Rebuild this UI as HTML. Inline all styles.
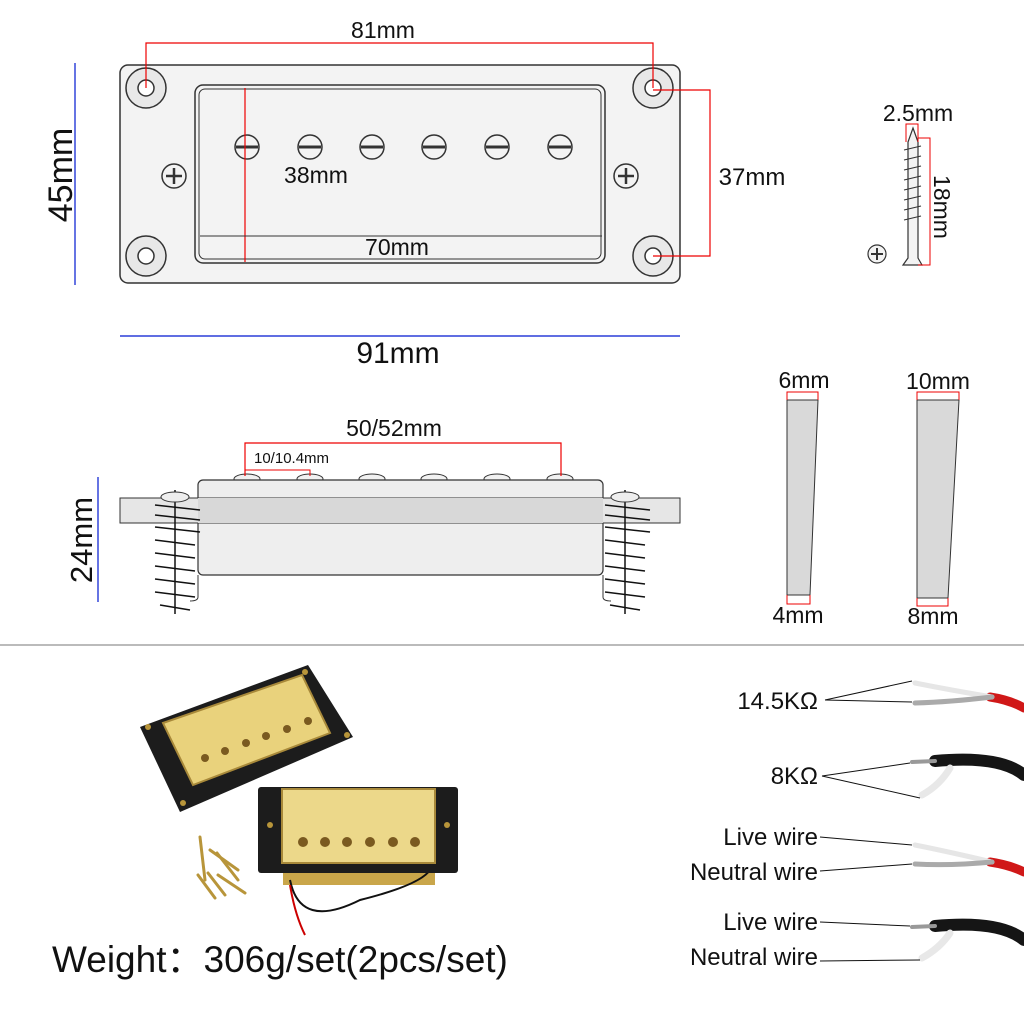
<!DOCTYPE html>
<html><head><meta charset="utf-8"><style>
html,body{margin:0;padding:0;background:#fff}
svg{display:block}
text{font-family:"Liberation Sans",sans-serif;fill:#111}
</style></head><body>
<svg width="1024" height="1024" viewBox="0 0 1024 1024" xmlns="http://www.w3.org/2000/svg">
<rect width="1024" height="1024" fill="#fff"/>
<!-- TOP VIEW -->
<rect x="120" y="65" width="560" height="218" rx="8" fill="#f3f3f3" stroke="#333" stroke-width="1.5"/>
<rect x="195" y="85" width="410" height="178" rx="8" fill="#f3f3f3" stroke="#333" stroke-width="1.5"/>
<rect x="199" y="89" width="402" height="170" rx="6" fill="none" stroke="#333" stroke-width="1"/>
<g fill="#e8e8e8" stroke="#333" stroke-width="1.5">
<circle cx="146" cy="88" r="20"/><circle cx="653" cy="88" r="20"/>
<circle cx="146" cy="256" r="20"/><circle cx="653" cy="256" r="20"/>
</g>
<g fill="#fff" stroke="#333" stroke-width="1.5">
<circle cx="146" cy="88" r="8"/><circle cx="653" cy="88" r="8"/>
<circle cx="146" cy="256" r="8"/><circle cx="653" cy="256" r="8"/>
</g>
<g fill="#f3f3f3" stroke="#333" stroke-width="1.5">
<circle cx="247" cy="147" r="12"/><circle cx="310" cy="147" r="12"/><circle cx="372" cy="147" r="12"/>
<circle cx="434" cy="147" r="12"/><circle cx="497" cy="147" r="12"/><circle cx="560" cy="147" r="12"/>
<circle cx="174" cy="176" r="12"/><circle cx="626" cy="176" r="12"/>
</g>
<g stroke="#333" stroke-width="3">
<line x1="236" y1="147" x2="258" y2="147"/><line x1="299" y1="147" x2="321" y2="147"/><line x1="361" y1="147" x2="383" y2="147"/>
<line x1="423" y1="147" x2="445" y2="147"/><line x1="486" y1="147" x2="508" y2="147"/><line x1="549" y1="147" x2="571" y2="147"/>
</g>
<g stroke="#333" stroke-width="2.5">
<line x1="166" y1="176" x2="182" y2="176"/><line x1="174" y1="168" x2="174" y2="184"/>
<line x1="618" y1="176" x2="634" y2="176"/><line x1="626" y1="168" x2="626" y2="184"/>
</g>
<g fill="none" stroke="#e00" stroke-width="1.2">
<polyline points="146,88 146,43 653,43 653,88"/>
<polyline points="653,90 710,90 710,256 653,256"/>
<line x1="245" y1="88" x2="245" y2="262"/>
</g>
<line x1="200" y1="236" x2="602" y2="236" stroke="#333" stroke-width="1"/>
<line x1="75" y1="63" x2="75" y2="285" stroke="#0018d0" stroke-width="1.2"/>
<line x1="120" y1="336" x2="680" y2="336" stroke="#0018d0" stroke-width="1.2"/>
<text x="383" y="38" font-size="23" text-anchor="middle">81mm</text>
<text x="752" y="185" font-size="24" text-anchor="middle">37mm</text>
<text x="316" y="183" font-size="23" text-anchor="middle">38mm</text>
<text x="397" y="255" font-size="23" text-anchor="middle">70mm</text>
<text x="398" y="363" font-size="30" text-anchor="middle">91mm</text>
<text transform="translate(72,175) rotate(-90)" font-size="34" text-anchor="middle">45mm</text>
<!-- screw -->
<g stroke="#333" stroke-width="1.2" fill="#f3f3f3">
<polygon points="913,128 918,142 918,258 922,265 903,265 908,258 908,142"/>
</g>
<g stroke="#333" stroke-width="1">
<line x1="904" y1="150" x2="921" y2="146"/><line x1="904" y1="160" x2="921" y2="156"/><line x1="904" y1="170" x2="921" y2="166"/>
<line x1="904" y1="180" x2="921" y2="176"/><line x1="904" y1="190" x2="921" y2="186"/><line x1="904" y1="200" x2="921" y2="196"/>
<line x1="904" y1="210" x2="921" y2="206"/><line x1="904" y1="220" x2="921" y2="216"/>
</g>
<polyline points="906,142 906,124 918,124 918,142" fill="none" stroke="#e00" stroke-width="1"/>
<polyline points="918,138 930,138 930,265 918,265" fill="none" stroke="#e00" stroke-width="1"/>
<circle cx="877" cy="254" r="9" fill="#f3f3f3" stroke="#333" stroke-width="1.2"/>
<line x1="871" y1="254" x2="883" y2="254" stroke="#333" stroke-width="2"/><line x1="877" y1="248" x2="877" y2="260" stroke="#333" stroke-width="2"/>
<text x="918" y="121" font-size="23" text-anchor="middle">2.5mm</text>
<text transform="translate(934,207) rotate(90)" font-size="23" text-anchor="middle">18mm</text>
<!-- SIDE VIEW -->
<g fill="#f1f1f1" stroke="#333" stroke-width="1">
<ellipse cx="247" cy="479" rx="13" ry="5"/><ellipse cx="310" cy="479" rx="13" ry="5"/><ellipse cx="372" cy="479" rx="13" ry="5"/>
<ellipse cx="434" cy="479" rx="13" ry="5"/><ellipse cx="497" cy="479" rx="13" ry="5"/><ellipse cx="560" cy="479" rx="13" ry="5"/>
</g>
<rect x="198" y="480" width="405" height="95" rx="5" fill="#eeeeee" stroke="#333" stroke-width="1.2"/>
<rect x="120" y="498" width="560" height="25" fill="#e6e6e6" stroke="#333" stroke-width="1"/>
<rect x="198" y="498" width="405" height="25" fill="#d8d8d8" stroke="none"/>
<path d="M198,575 L198,597 Q198,601 190,601" fill="none" stroke="#333" stroke-width="1"/>
<path d="M603,575 L603,597 Q603,601 611,601" fill="none" stroke="#333" stroke-width="1"/>
<g stroke="#111" stroke-width="1.5">
<line x1="175" y1="490" x2="175" y2="614"/><line x1="625" y1="490" x2="625" y2="614"/>
<line x1="155" y1="505" x2="200" y2="510"/><line x1="155" y1="515" x2="200" y2="520"/><line x1="155" y1="527" x2="200" y2="532"/>
<line x1="155" y1="540" x2="195" y2="545"/><line x1="155" y1="553" x2="195" y2="558"/><line x1="155" y1="566" x2="195" y2="571"/>
<line x1="155" y1="579" x2="195" y2="584"/><line x1="155" y1="592" x2="195" y2="597"/><line x1="160" y1="605" x2="190" y2="610"/>
<line x1="605" y1="505" x2="650" y2="510"/><line x1="605" y1="515" x2="650" y2="520"/><line x1="605" y1="527" x2="650" y2="532"/>
<line x1="605" y1="540" x2="645" y2="545"/><line x1="605" y1="553" x2="645" y2="558"/><line x1="605" y1="566" x2="645" y2="571"/>
<line x1="605" y1="579" x2="645" y2="584"/><line x1="605" y1="592" x2="645" y2="597"/><line x1="610" y1="605" x2="640" y2="610"/>
</g>
<ellipse cx="175" cy="497" rx="14" ry="5" fill="#eee" stroke="#333"/><ellipse cx="625" cy="497" rx="14" ry="5" fill="#eee" stroke="#333"/>
<polyline points="245,476 245,443 561,443 561,476" fill="none" stroke="#e00" stroke-width="1.2"/>
<polyline points="245,470 310,470 310,476" fill="none" stroke="#e00" stroke-width="1"/>
<text x="394" y="436" font-size="23" text-anchor="middle">50/52mm</text>
<text x="254" y="463" font-size="15">10/10.4mm</text>
<line x1="98" y1="477" x2="98" y2="602" stroke="#0018d0" stroke-width="1.2"/>
<text transform="translate(92,540) rotate(-90)" font-size="31" text-anchor="middle">24mm</text>
<!-- tapers -->
<polygon points="787,400 818,400 810,595 787,595" fill="#d9d9d9" stroke="#333" stroke-width="1"/>
<polygon points="917,400 959,400 948,598 917,598" fill="#d9d9d9" stroke="#333" stroke-width="1"/>
<g fill="none" stroke="#e00" stroke-width="1">
<polyline points="787,400 787,392 818,392 818,400"/><polyline points="917,400 917,392 959,392 959,400"/>
<polyline points="787,595 787,604 810,604 810,595"/><polyline points="917,598 917,606 948,606 948,598"/>
</g>
<text x="804" y="388" font-size="23" text-anchor="middle">6mm</text>
<text x="938" y="389" font-size="23" text-anchor="middle">10mm</text>
<text x="798" y="623" font-size="23" text-anchor="middle">4mm</text>
<text x="933" y="624" font-size="23" text-anchor="middle">8mm</text>
<line x1="0" y1="645" x2="1024" y2="645" stroke="#777" stroke-width="1"/>
<!-- PHOTO pickups -->
<polygon points="140,727 308,665 353,737 180,812" fill="#1c1c1c"/>
<polygon points="163,723 302,675 330,733 193,785" fill="#e9d27c" stroke="#a8893a" stroke-width="2"/>
<g fill="#7a5a20"><circle cx="205" cy="758" r="4"/><circle cx="225" cy="751" r="4"/><circle cx="246" cy="743" r="4"/><circle cx="266" cy="736" r="4"/><circle cx="287" cy="729" r="4"/><circle cx="308" cy="721" r="4"/></g>
<g fill="#b8953a"><circle cx="148" cy="727" r="3"/><circle cx="305" cy="672" r="3"/><circle cx="347" cy="735" r="3"/><circle cx="183" cy="803" r="3"/></g>
<rect x="283" y="873" width="152" height="12" fill="#c9a64a"/>
<path d="M290,880 Q300,930 360,900 Q420,885 430,870" fill="none" stroke="#111" stroke-width="2"/>
<path d="M290,885 Q295,915 305,935" fill="none" stroke="#c00" stroke-width="2"/>
<rect x="258" y="787" width="200" height="86" rx="3" fill="#1c1c1c"/>
<rect x="282" y="789" width="153" height="74" fill="#ecd88a" stroke="#a8893a" stroke-width="2"/>
<g fill="#7a5a20"><circle cx="303" cy="842" r="5"/><circle cx="325" cy="842" r="5"/><circle cx="347" cy="842" r="5"/><circle cx="370" cy="842" r="5"/><circle cx="393" cy="842" r="5"/><circle cx="415" cy="842" r="5"/></g>
<g fill="#b8953a"><circle cx="270" cy="825" r="3"/><circle cx="447" cy="825" r="3"/></g>
<g stroke="#b8953a" stroke-width="3" stroke-linecap="round">
<line x1="200" y1="837" x2="205" y2="880"/><line x1="210" y1="850" x2="238" y2="870"/><line x1="217" y1="853" x2="238" y2="880"/>
<line x1="198" y1="875" x2="215" y2="898"/><line x1="208" y1="873" x2="225" y2="895"/><line x1="218" y1="875" x2="245" y2="893"/>
</g>
<text x="52" y="972" font-size="37" font-family="Liberation Sans,Noto Sans CJK SC,sans-serif">Weight：306g/set(2pcs/set)</text>
<!-- wires -->
<g stroke-linecap="round" fill="none">
<path d="M990,697 Q1010,700 1024,708" stroke="#d01818" stroke-width="9"/>
<path d="M915,683 Q950,690 992,697" stroke="#e6e6e6" stroke-width="5"/>
<path d="M915,703 Q950,702 992,697" stroke="#aaa" stroke-width="5"/>
<path d="M935,761 Q1000,755 1024,775" stroke="#151515" stroke-width="12"/>
<path d="M912,762 L935,761" stroke="#999" stroke-width="4"/>
<path d="M922,795 Q940,785 950,768" stroke="#e8e8e8" stroke-width="7"/>
<path d="M990,862 Q1010,865 1024,872" stroke="#d01818" stroke-width="9"/>
<path d="M915,845 Q950,852 992,862" stroke="#e6e6e6" stroke-width="5"/>
<path d="M915,864 Q950,866 992,862" stroke="#aaa" stroke-width="5"/>
<path d="M935,926 Q1000,920 1024,940" stroke="#151515" stroke-width="12"/>
<path d="M912,927 L935,926" stroke="#999" stroke-width="4"/>
<path d="M922,958 Q940,948 950,933" stroke="#e8e8e8" stroke-width="7"/>
</g>
<g stroke="#111" stroke-width="1">
<line x1="825" y1="700" x2="912" y2="681"/><line x1="825" y1="700" x2="912" y2="702"/>
<line x1="822" y1="776" x2="910" y2="763"/><line x1="822" y1="776" x2="920" y2="798"/>
<line x1="820" y1="837" x2="912" y2="845"/><line x1="820" y1="871" x2="912" y2="864"/>
<line x1="820" y1="922" x2="910" y2="926"/><line x1="820" y1="961" x2="920" y2="960"/>
</g>
<g font-size="24" text-anchor="end">
<text x="818" y="709">14.5KΩ</text>
<text x="818" y="784">8KΩ</text>
<text x="818" y="845">Live wire</text>
<text x="818" y="880">Neutral wire</text>
<text x="818" y="930">Live wire</text>
<text x="818" y="965">Neutral wire</text>
</g>
</svg>
</body></html>
